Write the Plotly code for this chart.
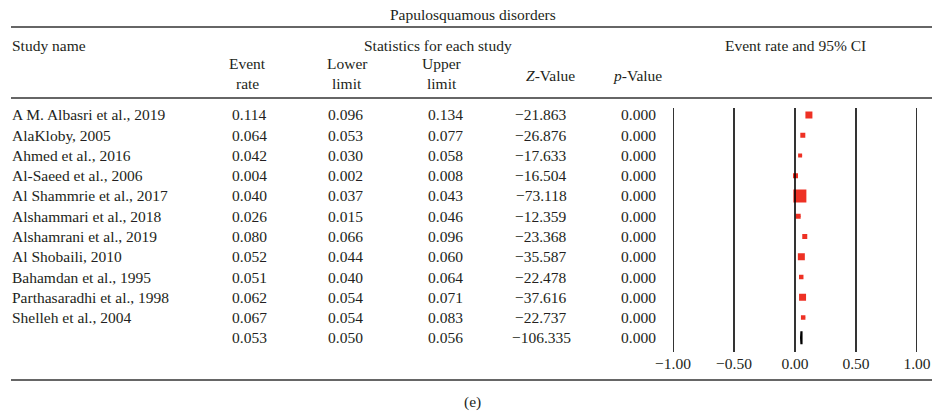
import plotly.graph_objects as go
import math

# ---------------- data ----------------
studies = [
    "A M. Albasri et al., 2019", "AlaKloby, 2005", "Ahmed et al., 2016",
    "Al-Saeed et al., 2006", "Al Shammrie et al., 2017", "Alshammari et al., 2018",
    "Alshamrani et al., 2019", "Al Shobaili, 2010", "Bahamdan et al., 1995",
    "Parthasaradhi et al., 1998", "Shelleh et al., 2004",
]
event_rate = [0.114, 0.064, 0.042, 0.004, 0.040, 0.026, 0.080, 0.052, 0.051, 0.062, 0.067]
lower_limit = [0.096, 0.053, 0.030, 0.002, 0.037, 0.015, 0.066, 0.044, 0.040, 0.054, 0.054]
upper_limit = [0.134, 0.077, 0.058, 0.008, 0.043, 0.046, 0.096, 0.060, 0.064, 0.071, 0.083]
z_value = [-21.863, -26.876, -17.633, -16.504, -73.118, -12.359, -23.368, -35.587, -22.478, -37.616, -22.737]
p_value = [0.000] * 11
# relative study weights (%), estimated from square sizes
weights = [10.4, 5.3, 3.4, 5.3, 35.8, 5.3, 5.3, 10.4, 4.3, 10.4, 4.3]

summary_rate = 0.053
summary_lower = 0.050
summary_upper = 0.056
summary_z = -106.335
summary_p = 0.000

tick_vals = [-1.0, -0.5, 0.0, 0.5, 1.0]

title_text = "Papulosquamous disorders"
panel_label = "(e)"

# ---------------- layout helpers ----------------
W, H = 932, 417
FONT = "Liberation Serif"
FS = 15.5
TXT = "#231f20"
RED = "#ee3124"
RULE = "#333333"


def fmt(v, nd=3):
    return f"{v:.{nd}f}".replace("-", "\u2212")


def px_x(x):
    return x / W


def px_y(y):
    return 1 - y / H


n = len(studies)
rows = list(range(n))
summary_row = n

# y axis: row r sits at pixel 115 + 20.25*r ; plot area 108..352 px
row0_px, row_h = 115.0, 20.25
plot_top, plot_bot = 108.0, 352.0
y_top = (plot_top - row0_px) / row_h
y_bot = (plot_bot - row0_px) / row_h

fig = go.Figure()

# horizontal table rules on a full-page overlay axis (pixel frame)
for yy in (27, 98, 380):
    fig.add_trace(go.Scatter(
        x=[11, W], y=[yy, yy], xaxis="x2", yaxis="y2", mode="lines",
        line=dict(color=RULE, width=1.7), cliponaxis=False,
        hoverinfo="skip", showlegend=False,
    ))

# confidence intervals + squares
max_w = max(weights)
sizes = [13.0 * math.sqrt(w / max_w) for w in weights]
fig.add_trace(go.Scatter(
    x=event_rate, y=rows, mode="markers",
    marker=dict(symbol="square", size=sizes, color=RED, opacity=1, line=dict(width=0)),
    error_x=dict(type="data", symmetric=False,
                 array=[u - e for u, e in zip(upper_limit, event_rate)],
                 arrayminus=[e - l for e, l in zip(event_rate, lower_limit)],
                 color=RED, thickness=1, width=0),
    hoverinfo="skip", showlegend=False,
))

# summary diamond
dh = 0.32
fig.add_trace(go.Scatter(
    x=[summary_lower, summary_rate, summary_upper, summary_rate, summary_lower],
    y=[summary_row, summary_row - dh, summary_row, summary_row + dh, summary_row],
    mode="lines", fill="toself", fillcolor="black",
    line=dict(color="black", width=2.2),
    hoverinfo="skip", showlegend=False,
))

annotations = []


def add_text(text, x, y, xref="paper", yref="paper", xanchor="center", size=FS):
    annotations.append(dict(text=text, x=x, y=y, xref=xref, yref=yref,
                            xanchor=xanchor, yanchor="middle", showarrow=False,
                            font=dict(family=FONT, size=size, color=TXT)))


# title & headers
add_text(title_text, px_x(473), px_y(14))
add_text("Study name", px_x(10), px_y(46), xanchor="left")
add_text("Statistics for each study", px_x(438), px_y(46))
add_text("Event rate and 95% CI", px_x(795), px_y(46))
add_text("Event", px_x(247), px_y(64))
add_text("rate", px_x(247), px_y(84))
add_text("Lower", px_x(347), px_y(64))
add_text("limit", px_x(347), px_y(84))
add_text("Upper", px_x(442), px_y(64))
add_text("limit", px_x(442), px_y(84))
add_text("<i>Z</i>-Value", px_x(550), px_y(75))
add_text("<i>p</i>-Value", px_x(637), px_y(75))

col_x = [250, 345, 445, 541, 638]
for r in rows:
    add_text(studies[r], px_x(10), r, yref="y", xanchor="left")
    vals = [event_rate[r], lower_limit[r], upper_limit[r], z_value[r], p_value[r]]
    for cx, v in zip(col_x, vals):
        add_text(fmt(v), px_x(cx), r, yref="y")
for cx, v in zip(col_x, [summary_rate, summary_lower, summary_upper, summary_z, summary_p]):
    add_text(fmt(v), px_x(cx), summary_row, yref="y")

add_text(panel_label, px_x(472), px_y(402))

# vertical reference lines at the axis ticks
shapes = []
for tv in tick_vals:
    shapes.append(dict(type="line", xref="x", yref="y domain",
                       x0=tv, x1=tv, y0=0, y1=1,
                       line=dict(color="black", width=1.6)))

fig.update_layout(
    width=W, height=H, margin=dict(l=0, r=0, t=0, b=0, autoexpand=False),
    paper_bgcolor="white", plot_bgcolor="rgba(0,0,0,0)",
    annotations=annotations, shapes=shapes,
    xaxis=dict(domain=[px_x(673), px_x(917)], range=[-1, 1], automargin=False,
               showgrid=False, zeroline=False, showline=False,
               tickvals=tick_vals, ticktext=[fmt(v, 2) for v in tick_vals],
               ticks="", tickfont=dict(family=FONT, size=FS, color=TXT)),
    yaxis=dict(domain=[px_y(plot_bot), px_y(plot_top)], range=[y_bot, y_top], automargin=False,
               showgrid=False, zeroline=False, showline=False, showticklabels=False),
    xaxis2=dict(domain=[0, 1], range=[0, W], visible=False, automargin=False,
                fixedrange=True, anchor="y2"),
    yaxis2=dict(domain=[0, 1], range=[H, 0], visible=False, automargin=False,
                fixedrange=True, anchor="x2"),
)

fig.write_html(
    "out.html",
    config={"displayModeBar": False},
    post_script="document.body.style.margin='0';document.body.style.overflow='hidden';",
)
